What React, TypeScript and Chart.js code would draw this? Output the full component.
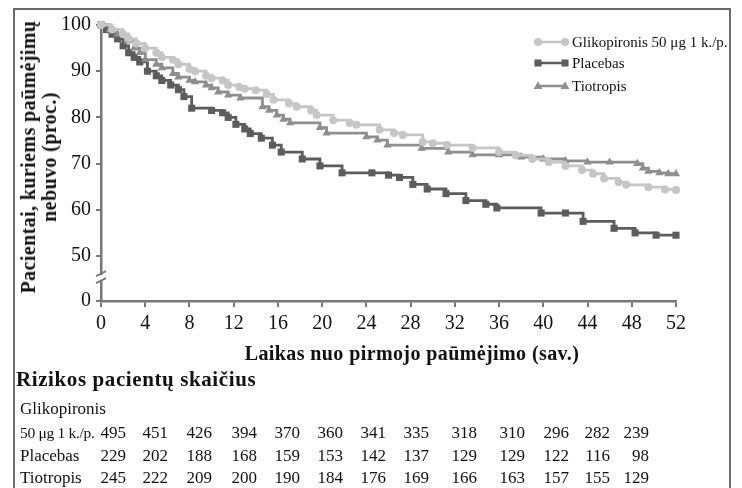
import React, { useEffect, useRef } from 'react';
import { Chart, registerables } from 'chart.js';

Chart.register(...registerables);

// ---------- data ----------
const weekTicks = [0, 4, 8, 12, 16, 20, 24, 28, 32, 36, 40, 44, 48, 52];
const yTicks = [50, 60, 70, 80, 90, 100];
const yBottomLabel = '0';

const seriesNames = ['Glikopironis 50 μg 1 k./p.', 'Placebas', 'Tiotropis'];

const glycoWeeks = [0, 1, 2, 2.5, 3.2, 4, 5, 5.5, 6.5, 7, 8, 8.5, 9.5, 10, 11, 11.5, 12.5, 13, 14, 15, 15.6, 17, 17.7, 19, 19.5, 21, 22.5, 23.1, 25.2, 26.5, 27.3, 29.1, 30, 31.3, 33.6, 36, 37.5, 39, 40.5, 42, 43.5, 44.5, 45.5, 46.8, 47.5, 49.5, 51, 52];
const glycoValues = [100, 99, 98, 97, 96, 95, 94, 93, 92.5, 91.5, 90.5, 90, 89, 88.5, 88, 87, 86.6, 86.2, 85.9, 85, 83.8, 83, 82.3, 81.5, 80.5, 79.4, 78.8, 78.4, 77.3, 76.6, 76.2, 74.7, 74.4, 74, 73.4, 72.5, 71.8, 71, 70.3, 69.5, 68.6, 67.8, 66.8, 66, 65.4, 64.9, 64.4, 64.3];

const placeboWeeks = [0, 0.5, 1, 1.5, 2, 2.5, 3, 3.5, 4.2, 5, 5.5, 6.3, 7, 7.5, 8.2, 10, 11, 11.5, 12.2, 13, 13.5, 14.5, 15.5, 16.3, 18.2, 19.8, 21.8, 24.5, 26, 27, 28.2, 29.5, 31.2, 33, 34.8, 35.8, 39.8, 42, 43.6, 46.4, 48.3, 50.2, 52];
const placeboValues = [100, 99, 98, 97, 95.5, 94, 93, 92, 90, 89, 88, 87, 86, 84.5, 82, 81.5, 81, 80, 78.5, 77.5, 76.5, 75.5, 74, 72.5, 71, 69.5, 68, 68, 67.5, 67, 65.5, 64.5, 63.5, 62, 61.2, 60.4, 59.3, 59.3, 57.5, 56, 55, 54.5, 54.5];

const tioWeeks = [0, 0.8, 1.5, 2.4, 3, 3.5, 4, 5, 5.5, 6.5, 7, 8, 8.5, 9.5, 10, 10.6, 11.5, 12.6, 14.6, 15.2, 15.9, 16.5, 17.1, 19.8, 20.4, 24, 25, 25.9, 29, 31.4, 33.6, 36, 38, 40, 42, 44, 46, 48.5, 49, 49.5, 50.5, 51.3, 52];
const tioValues = [100, 99, 98, 96.5, 95, 94, 92.5, 91.5, 90.7, 89.5, 88.7, 88, 87.7, 87, 86.4, 85.5, 84.8, 84.2, 82.3, 81.5, 80.5, 79.6, 78.8, 77.8, 76.6, 75.8, 75.1, 74, 73.3, 72.5, 71.9, 71.9, 71.4, 71, 70.6, 70.3, 70.3, 70, 69, 68.3, 68, 67.8, 67.8];

const yAxisTitle = ['Pacientai, kuriems paūmėjimų', 'nebuvo (proc.)'];
const xAxisTitle = 'Laikas nuo pirmojo paūmėjimo (sav.)';
const riskTitle = 'Rizikos pacientų skaičius';
const riskGroupHeader = 'Glikopironis';
const riskRowLabels = ['50 μg 1 k./p.', 'Placebas', 'Tiotropis'];
const riskGlyco = [495, 451, 426, 394, 370, 360, 341, 335, 318, 310, 296, 282, 239];
const riskPlacebo = [229, 202, 188, 168, 159, 153, 142, 137, 129, 129, 122, 116, 98];
const riskTio = [245, 222, 209, 200, 190, 184, 176, 169, 166, 163, 157, 155, 129];

// ---------- layout / style ----------
const FONT = '"Liberation Serif", "Times New Roman", serif';
const Y_MIN = 40.26;
const BREAK_VALUE = 45.2;
const AXIS_COLOR = '#777777';
const colors = ['#c6c6c6', '#5c5c5c', '#8e8e8e'];
const styles = ['circle', 'rect', 'triangle'];
const radii = [4, 5, 4.8];
const legendRowY = [42, 63, 86];
const numberRight = [126, 168, 212, 257, 300, 343, 386, 429, 477, 525, 569, 610, 649];
const rowY = [409, 433, 456, 478];

function drawMarker(ctx: CanvasRenderingContext2D, style: string, x: number, y: number, r: number) {
  ctx.beginPath();
  if (style === 'circle') {
    ctx.arc(x, y, r, 0, Math.PI * 2);
  } else if (style === 'rect') {
    const s = r * Math.SQRT1_2;
    ctx.rect(x - s, y - s, 2 * s, 2 * s);
  } else {
    const h = r * 1.5;
    ctx.moveTo(x, y - r);
    ctx.lineTo(x + h * 0.6, y + r * 0.6);
    ctx.lineTo(x - h * 0.6, y + r * 0.6);
    ctx.closePath();
  }
  ctx.fill();
}

const legendPlugin = {
  id: 'customLegend',
  afterDraw(chart: any) {
    const ctx = chart.ctx as CanvasRenderingContext2D;
    ctx.save();
    seriesNames.forEach((name, i) => {
      const y = legendRowY[i];
      ctx.strokeStyle = colors[i];
      ctx.lineWidth = 2.5;
      ctx.beginPath();
      ctx.moveTo(537, y);
      ctx.lineTo(566, y);
      ctx.stroke();
      ctx.fillStyle = colors[i];
      drawMarker(ctx, styles[i], 538, y, radii[i]);
      drawMarker(ctx, styles[i], 565, y, radii[i]);
      ctx.fillStyle = '#111';
      ctx.font = '15px ' + FONT;
      ctx.textBaseline = 'middle';
      ctx.textAlign = 'left';
      ctx.fillText(name, 572, y + 1);
    });
    ctx.restore();
  },
};

const breakPlugin = {
  id: 'axisBreak',
  afterDraw(chart: any) {
    const ctx = chart.ctx as CanvasRenderingContext2D;
    const ys = chart.scales.y;
    const x = ys.right;
    const y = ys.getPixelForValue(BREAK_VALUE);
    ctx.save();
    ctx.fillStyle = '#fff';
    ctx.fillRect(x - 3, y - 3, 6, 6);
    ctx.strokeStyle = AXIS_COLOR;
    ctx.lineWidth = 1.8;
    ctx.beginPath();
    ctx.moveTo(x - 5, y - 2);
    ctx.lineTo(x + 5, y - 7);
    ctx.moveTo(x - 5, y + 5);
    ctx.lineTo(x + 5, y);
    ctx.stroke();
    ctx.restore();
  },
};

function makeDataset(i: number, weeks: number[], values: number[]) {
  return {
    label: seriesNames[i],
    data: weeks.map((w, k) => ({ x: w, y: values[k] })),
    borderColor: colors[i],
    backgroundColor: colors[i],
    pointBackgroundColor: colors[i],
    pointBorderColor: colors[i],
    pointBorderWidth: 0,
    pointStyle: styles[i],
    pointRadius: radii[i],
    borderWidth: 2.8,
    stepped: 'before' as const,
    clip: false as const,
  };
}

export default function App() {
  const canvasRef = useRef<HTMLCanvasElement | null>(null);

  useEffect(() => {
    const canvas = canvasRef.current;
    if (!canvas) return;
    const chart = new Chart(canvas, {
      type: 'line',
      data: {
        datasets: [
          makeDataset(0, glycoWeeks, glycoValues),
          makeDataset(2, tioWeeks, tioValues),
          makeDataset(1, placeboWeeks, placeboValues),
        ],
      },
      options: {
        animation: false,
        responsive: false,
        devicePixelRatio: 1,
        layout: { padding: { left: 0, right: 66, top: 25, bottom: 29 } },
        plugins: { legend: { display: false }, tooltip: { enabled: false } },
        scales: {
          x: {
            type: 'linear',
            min: 0,
            max: 52,
            afterBuildTicks: (scale: any) => {
              scale.ticks = weekTicks.map((v) => ({ value: v }));
            },
            afterFit: (scale: any) => {
              scale.height = 40;
            },
            grid: { drawOnChartArea: false, drawTicks: true, tickLength: 6, color: AXIS_COLOR, lineWidth: 2 },
            border: { display: true, color: AXIS_COLOR, width: 2.5 },
            ticks: { color: '#111', font: { family: FONT, size: 20 }, padding: 5, maxRotation: 0 },
          },
          y: {
            type: 'linear',
            min: Y_MIN,
            max: 100,
            afterBuildTicks: (scale: any) => {
              scale.ticks = [Y_MIN, ...yTicks].map((v) => ({ value: v }));
            },
            afterFit: (scale: any) => {
              scale.width = 101;
            },
            grid: { drawOnChartArea: false, drawTicks: true, tickLength: 5, color: AXIS_COLOR, lineWidth: 2 },
            border: { display: true, color: AXIS_COLOR, width: 2.5 },
            ticks: {
              color: '#111',
              font: { family: FONT, size: 20 },
              padding: 5,
              callback: (v: any) => (Number(v) < 45 ? yBottomLabel : String(v)),
            },
          },
        },
      },
      plugins: [legendPlugin, breakPlugin],
    } as any);
    return () => chart.destroy();
  }, []);

  const rows = [riskGlyco, riskPlacebo, riskTio];

  return (
    <div style={{ position: 'fixed', left: 0, top: 0, width: 742, height: 488, overflow: 'hidden', background: '#fff', fontFamily: FONT, color: '#111' }}>
      <div style={{ position: 'absolute', left: 13, top: 8, width: 718, height: 500, boxSizing: 'border-box', borderLeft: '2px solid #6a6a6a', borderTop: '2px solid #6a6a6a', borderRight: '2px solid #6a6a6a' }} />
      <canvas ref={canvasRef} width={742} height={370} style={{ position: 'absolute', left: 0, top: 0, width: 742, height: 370 }} />
      <div
        style={{
          position: 'absolute', left: 39, top: 157, transform: 'translate(-50%, -50%) rotate(-90deg)',
          whiteSpace: 'nowrap', textAlign: 'center', fontWeight: 'bold', fontSize: 20, lineHeight: '21px', letterSpacing: '0.4px',
        }}
      >
        <div>{yAxisTitle[0]}</div>
        <div>{yAxisTitle[1]}</div>
      </div>
      <div style={{ position: 'absolute', left: 412, top: 353, transform: 'translate(-50%, -50%)', whiteSpace: 'nowrap', fontWeight: 'bold', fontSize: 20, letterSpacing: '0.4px' }}>
        {xAxisTitle}
      </div>
      <div style={{ position: 'absolute', left: 16, top: 379, transform: 'translateY(-50%)', whiteSpace: 'nowrap', fontWeight: 'bold', fontSize: 21, letterSpacing: '0.6px' }}>
        {riskTitle}
      </div>
      <div style={{ position: 'absolute', left: 20, top: rowY[0], transform: 'translateY(-50%)', whiteSpace: 'nowrap', fontSize: 17 }}>
        {riskGroupHeader}
      </div>
      {riskRowLabels.map((lab, r) => (
        <div key={'l' + r} style={{ position: 'absolute', left: 20, top: rowY[r + 1], transform: 'translateY(-50%)', whiteSpace: 'nowrap', fontSize: r === 0 ? 15.5 : 17, letterSpacing: r === 0 ? '-0.3px' : '0px' }}>
          {lab}
        </div>
      ))}
      {rows.map((vals, r) =>
        vals.map((v, c) => (
          <div key={r + '-' + c} style={{ position: 'absolute', left: numberRight[c] - 40, width: 40, textAlign: 'right', top: rowY[r + 1], transform: 'translateY(-50%)', fontSize: 17 }}>
            {v}
          </div>
        ))
      )}
    </div>
  );
}
